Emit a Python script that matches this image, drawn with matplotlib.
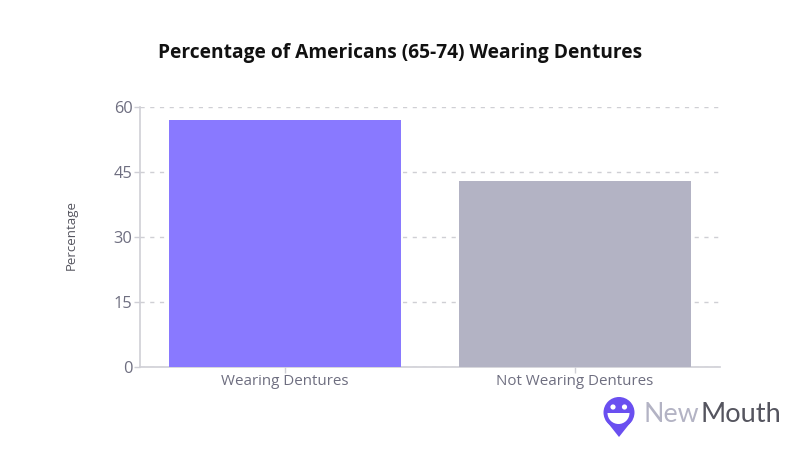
import matplotlib
matplotlib.use("Agg")
import matplotlib.pyplot as plt
from matplotlib.patches import Circle, Polygon, Wedge

categories = ["Wearing Dentures", "Not Wearing Dentures"]
values = [57, 43]
colors = ["#8979FF", "#B3B3C4"]
yticks = [0, 15, 30, 45, 60]
title = "Percentage of Americans (65-74) Wearing Dentures"
ylabel = "Percentage"

W, H = 800, 470
plt.rcParams["font.family"] = ["Open Sans", "DejaVu Sans"]
fig = plt.figure(figsize=(W / 100, H / 100), dpi=100, facecolor="white")
L, R, T, B = 140, 720, 107, 367
ax = fig.add_axes([L / W, 1 - B / H, (R - L) / W, (B - T) / H])
ax.set_xlim(-0.5, 1.5)
ax.set_ylim(0, 60)
ax.bar(range(2), values, width=0.8, color=colors, zorder=3)
ax.set_xticks(range(2), categories)
ax.set_yticks(yticks)
ax.yaxis.grid(True, color="#CFCFD4", linestyle=(0, (3, 4)), linewidth=1, zorder=0)
ax.set_axisbelow(True)
for s in ("top", "right"):
    ax.spines[s].set_visible(False)
for s in ("left", "bottom"):
    ax.spines[s].set_color("#CFCFD6")
    ax.spines[s].set_linewidth(1.2)
ax.tick_params(axis="both", color="#CFCFD6", length=4.5, width=1, labelcolor="#6E6E80")
ax.tick_params(axis="x", labelsize=10.9, pad=0.5)
ax.tick_params(axis="y", labelsize=11.8, pad=0.8)

fig.text(400.5 / W, 1 - 52.7 / H, title, ha="center", va="center", fontsize=13.75,
         fontweight="bold", color="#111111")
fig.text(71 / W, 1 - 235.5 / H, ylabel, rotation=90, ha="center", va="center",
         fontsize=9.5, color="#55555F")

# Logo overlay in pixel coordinates
ov = fig.add_axes([0, 0, 1, 1], zorder=5)
ov.set_xlim(0, W)
ov.set_ylim(H, 0)
ov.axis("off")
purple = "#6A4FF0"
ov.add_patch(Circle((619, 412.5), 15.5, color=purple, lw=0))
ov.add_patch(Polygon([(605.5, 420), (632.5, 420), (619, 437)], closed=True, color=purple, lw=0))
ov.add_patch(Wedge((618.5, 413), 11, 0, 180, color="white", lw=0))
ov.add_patch(Circle((613, 407), 2.6, color="white", lw=0))
ov.add_patch(Circle((624.5, 407), 2.6, color="white", lw=0))
t1 = ov.text(644, 414, "New", ha="left", va="center", fontsize=19.3, color="#B3B3C4", family=["Lato", "DejaVu Sans"])
fig.canvas.draw()
bb = t1.get_window_extent()
ov.text(bb.x1 + 0.5, 414, "Mouth", ha="left", va="center", fontsize=19.6, color="#55555F", family=["Lato", "DejaVu Sans"])

fig.savefig("out.png", dpi=100)
